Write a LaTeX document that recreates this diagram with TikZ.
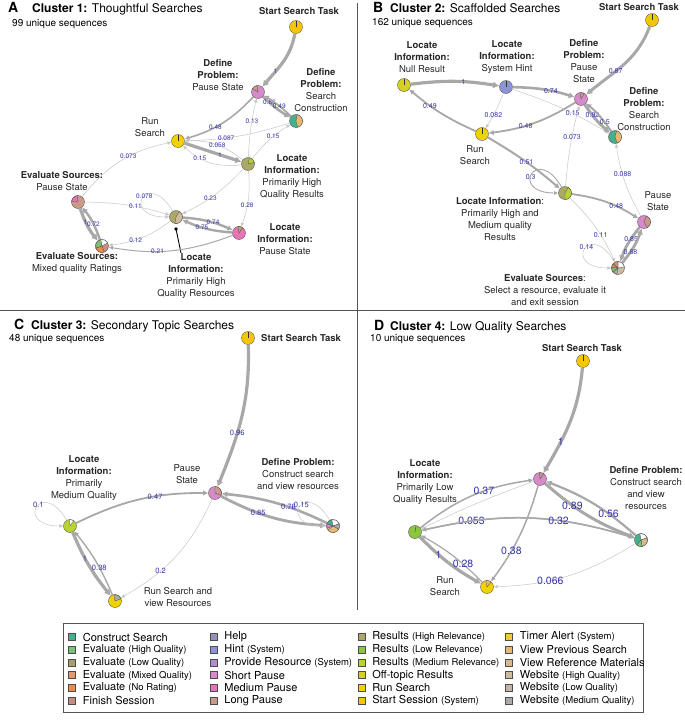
\documentclass[tikz,border=0pt]{standalone}
\usepackage{fontspec}
\setmainfont{TeX Gyre Heros}
\usetikzlibrary{arrows.meta,positioning}
\definecolor{cconstruct}{HTML}{45B08C}
\definecolor{cevalhigh}{HTML}{7CBF7B}
\definecolor{cevallow}{HTML}{A89F6E}
\definecolor{cevalmixed}{HTML}{E39A6E}
\definecolor{cevalnone}{HTML}{F08A4B}
\definecolor{cfinish}{HTML}{C48E86}
\definecolor{chelp}{HTML}{9B91B5}
\definecolor{chint}{HTML}{8C93D8}
\definecolor{cprovide}{HTML}{B48CCD}
\definecolor{cshort}{HTML}{D78AC9}
\definecolor{cmedium}{HTML}{E874B8}
\definecolor{clong}{HTML}{C99A8A}
\definecolor{creshigh}{HTML}{AAAA66}
\definecolor{creslow}{HTML}{8CC63E}
\definecolor{cresmed}{HTML}{B8D432}
\definecolor{coff}{HTML}{D4D21F}
\definecolor{crun}{HTML}{F2D100}
\definecolor{cstart}{HTML}{F6C700}
\definecolor{ctimer}{HTML}{F3C643}
\definecolor{cviewprev}{HTML}{E6B873}
\definecolor{cviewref}{HTML}{D8B98C}
\definecolor{cwebhigh}{HTML}{CDBB9F}
\definecolor{cweblow}{HTML}{C1B3A6}
\definecolor{cwebmed}{HTML}{AAAAAA}
\definecolor{edgegray}{HTML}{A8A8A8}
\definecolor{edgelight}{HTML}{C6C6C6}
\definecolor{labelblue}{HTML}{3434A6}
\definecolor{framegray}{HTML}{555555}

\newcommand{\pieslice}[4]{\filldraw[fill=#4, draw=black!70, line width=0.3pt] (#1.center) -- ++(#2:6.5) arc[start angle=#2, end angle=#3, radius=6.5] -- cycle;}
\newcommand{\pietick}[2]{\draw[black!80, line width=0.35pt] (#1.center) -- ++(#2:6.5);}
\newcommand{\legsub}[1]{{\fontsize{9.5}{12}\selectfont(#1)}}

\begin{document}
\begin{tikzpicture}[
  x=1pt, y=1pt,
  pie/.style={
    circle,
    draw=black!70,
    line width=0.35pt,
    minimum size=13pt,
    inner sep=0pt
  },
  statelabel/.style={
    font=\fontsize{9.5}{12}\selectfont,
    align=center,
    inner sep=0pt,
    text=black!85
  },
  headlabel/.style={
    statelabel,
    font=\fontsize{9.5}{12}\selectfont\bfseries
  },
  flow/.style={
    -{Latex[length=3.5pt 0.9, width=3pt 1.3]},
    draw=edgegray,
    line width=#1
  },
  flow/.default=1pt,
  thinflow/.style={
    -{Latex[length=3.5pt 0.9, width=3pt 1.3]},
    draw=edgelight,
    line width=0.5pt
  },
  elab/.style={
    font=\fontsize{#1}{#1}\selectfont,
    text=labelblue,
    inner sep=0pt
  },
  elab/.default=6.5,
  loopflow/.style={
    thinflow,
    out=120, in=180, min distance=50pt
  },
  letterlabel/.style={
    font=\fontsize{14}{14}\selectfont\bfseries,
    inner sep=0pt,
    anchor=base west
  },
  titletext/.style={
    font=\fontsize{12}{14}\selectfont,
    inner sep=0pt,
    anchor=base west
  },
  subtext/.style={
    font=\fontsize{10}{12}\selectfont,
    inner sep=0pt,
    anchor=base west
  },
  divider/.style={
    draw=framegray,
    line width=0.8pt
  },
  legsq/.style={
    rectangle,
    draw=black!70,
    line width=0.4pt,
    minimum size=7pt,
    inner sep=0pt
  },
  legtext/.style={
    font=\fontsize{11}{12}\selectfont,
    inner sep=0pt,
    xshift=7pt
  }
]
  \useasboundingbox (0,0) rectangle (685,-720);

  % ----------------------------------------------------
  % PANEL FRAME
  % ----------------------------------------------------
  \draw[divider] (0,-310) -- (685,-310);
  \draw[divider] (357,-3) -- (357,-610);

  % ----------------------------------------------------
  % PANEL A: CLUSTER 1
  % ----------------------------------------------------
  \node[letterlabel] (aLetter) at (8,-12.5) {A};
  \node[titletext] (aTitle) at (32,-12.5) {\textbf{Cluster 1:} Thoughtful Searches};
  \node[subtext] (aSub) at (12,-27) {99 unique sequences};

  \node[pie, fill=cstart] (aStart) at (296,-27) {};
  \node[pie, fill=cshort] (aDefP) at (258,-92) {};
  \node[pie, fill=cconstruct] (aSC) at (296,-121) {};
  \node[pie, fill=crun] (aRun) at (178,-141) {};
  \node[pie, fill=creshigh] (aLHR) at (248,-164) {};
  \node[pie, fill=clong] (aEP) at (78,-202) {};
  \node[pie, fill=creshigh] (aLHRes) at (176,-217) {};
  \node[pie, fill=cmedium] (aLP) at (239,-233) {};
  \node[pie, fill=cfinish] (aEM) at (102,-246) {};

  \node[headlabel] (aStartL) at (299,-11) {Start Search Task};
  \node[statelabel] (aDefPL) at (218,-75) {\textbf{Define}\\\textbf{Problem:}\\Pause State};
  \node[statelabel] (aSCL) at (321,-90) {\textbf{Define}\\\textbf{Problem:}\\Search\\Construction};
  \node[statelabel] (aRunL) at (150,-127.5) {Run\\Search};
  \node[statelabel] (aLHRL) at (292,-177) {\textbf{Locate}\\\textbf{Information:}\\Primarily High\\Quality Results};
  \node[statelabel] (aEPL) at (62,-181) {\textbf{Evaluate Sources:}\\Pause State};
  \node[statelabel] (aLHResL) at (196,-276) {\textbf{Locate}\\\textbf{Information:}\\Primarily High\\Quality Resources};
  \node[statelabel] (aLPL) at (285,-239) {\textbf{Locate}\\\textbf{Information:}\\Pause State};
  \node[statelabel] (aEML) at (77,-263.5) {\textbf{Evaluate Sources:}\\Mixed quality Ratings};

  % pointer to the resources label
  \coordinate (aPtr) at (176,-229);
  \coordinate (aPtrEnd) at (181,-253);
  \fill (aPtr) circle[radius=1.8];
  \draw[line width=0.9pt] (aPtr) -- (aPtrEnd);

  \draw[flow=3.2pt] (aStart) to[out=-100, in=50] node[elab, pos=0.7] {1} (aDefP);
  \draw[flow=2.6pt] (aDefP) to[bend right=6] node[elab, pos=0.24] {0.86} (aSC);
  \draw[flow=1.8pt] (aSC) to[bend right=6] node[elab, pos=0.45] {0.49} (aDefP);
  \draw[flow=1.6pt] (aDefP) to[bend left=15] node[elab, pos=0.6] {0.48} (aRun);
  \draw[thinflow] (aLHR) to[bend left=5] node[elab, pos=0.62] {0.13} (aDefP);
  \draw[thinflow] (aLHR) to[bend left=10] node[elab, pos=0.6] {0.15} (aSC);
  \draw[thinflow] (aSC) to[bend left=8] node[elab, pos=0.62] {0.087} (aRun);
  \draw[thinflow] (aLHR) to[bend right=20] node[elab, pos=0.47] {0.058} (aRun);
  \draw[flow=3.2pt] (aRun) to node[elab, pos=0.62] {1} (aLHR);
  \draw[thinflow] (aLHR) to[bend left=25] node[elab, pos=0.68] {0.15} (aRun);
  \draw[thinflow] (aEP) to[bend left=20] node[elab, pos=0.58] {0.073} (aRun);
  \draw[thinflow] (aEP) to[bend left=8] node[elab, pos=0.6] {0.11} (aLHRes);
  \draw[loopflow] (aLHRes) to node[elab, pos=0.45] {0.078} (aLHRes);
  \draw[thinflow] (aLHR) to[bend left=10] node[elab, pos=0.58] {0.23} (aLHRes);
  \draw[thinflow] (aLHR) to[bend left=12] node[elab, pos=0.62] {0.28} (aLP);
  \draw[flow=2.4pt] (aLHRes) to[bend left=10] node[elab, pos=0.6] {0.74} (aLP);
  \draw[flow=2.4pt] (aLP) to[bend left=10] node[elab, pos=0.6] {0.75} (aLHRes);
  \draw[thinflow] (aLHRes) to[bend left=15] node[elab, pos=0.6] {0.12} (aEM);
  \draw[flow=1pt] (aLP) to[bend left=15] node[elab, pos=0.62] {0.21} (aEM);
  \draw[flow=3.2pt] (aEP) to[bend right=10] node[elab, pos=0.4] {1} (aEM);
  \draw[flow=2.4pt] (aEM) to[bend right=10] node[elab, pos=0.45] {0.72} (aEP);

  \pietick{aStart}{90}
  \pieslice{aDefP}{100}{150}{clong}
  \pieslice{aSC}{-75}{80}{cviewprev}
  \pietick{aRun}{90}
  \pieslice{aLHR}{15}{75}{cresmed}
  \pieslice{aEP}{95}{175}{cmedium}
  \pieslice{aLHRes}{-100}{60}{cwebhigh}
  \pieslice{aLP}{55}{100}{creshigh}
  \pieslice{aEM}{100}{200}{cevalhigh}
  \pieslice{aEM}{200}{290}{cevalnone}
  \pieslice{aEM}{30}{100}{white}

  % ----------------------------------------------------
  % PANEL B: CLUSTER 2
  % ----------------------------------------------------
  \node[letterlabel] (bLetter) at (373,-12.3) {B};
  \node[titletext] (bTitle) at (390,-12.3) {\textbf{Cluster 2:} Scaffolded Searches};
  \node[subtext] (bSub) at (372,-25.5) {162 unique sequences};

  \node[pie, fill=cstart] (bStart) at (652,-20) {};
  \node[pie, fill=coff] (bNull) at (404,-85) {};
  \node[pie, fill=chint] (bHint) at (506,-87) {};
  \node[pie, fill=cshort] (bDefP) at (581,-99) {};
  \node[pie, fill=cconstruct] (bSC) at (615,-137) {};
  \node[pie, fill=crun] (bRun) at (482,-134) {};
  \node[pie, fill=creshigh] (bLHM) at (565,-193) {};
  \node[pie, fill=cshort] (bPause) at (644,-222) {};
  \node[pie, fill=cwebhigh] (bES) at (618,-268) {};

  \node[headlabel] (bStartL) at (639,-7.5) {Start Search Task};
  \node[statelabel] (bNullL) at (422,-57) {\textbf{Locate}\\\textbf{Information:}\\Null Result};
  \node[statelabel] (bHintL) at (507,-57) {\textbf{Locate}\\\textbf{Information:}\\System Hint};
  \node[statelabel] (bDefPL) at (584,-61) {\textbf{Define}\\\textbf{Problem:}\\Pause\\State};
  \node[statelabel] (bSCL) at (644,-109) {\textbf{Define}\\\textbf{Problem:}\\Search\\Construction};
  \node[statelabel] (bRunL) at (475,-155) {Run\\Search};
  \node[statelabel] (bLHML) at (500,-219) {\textbf{Locate Information}:\\Primarily High and\\Medium quality\\Results};
  \node[statelabel] (bPauseL) at (658,-201.5) {Pause\\State};
  \node[statelabel] (bESL) at (545,-290) {\textbf{Evaluate Sources}:\\Select a resource, evaluate it\\and exit session};

  \draw[flow=3pt] (bStart) to[out=-110, in=40] node[elab=7, pos=0.62] {0.87} (bDefP);
  \draw[flow=3.2pt] (bNull) to[bend left=8] node[elab=7, pos=0.6] {1} (bHint);
  \draw[flow=2.6pt] (bHint) to[bend left=8] node[elab=7, pos=0.62] {0.74} (bDefP);
  \draw[thinflow] (bHint) to[bend left=5] node[elab=7, pos=0.62] {0.082} (bRun);
  \draw[thinflow] (bHint) to[bend left=6] node[elab=7, pos=0.62] {0.15} (bSC);
  \draw[flow=3pt] (bDefP) to[bend right=8] node[elab=7, pos=0.34] {0.92} (bSC);
  \draw[flow=2pt] (bSC) to[bend right=8] node[elab=7, pos=0.28] {0.5} (bDefP);
  \draw[flow=1.8pt] (bDefP) to[bend left=12] node[elab=7, pos=0.6] {0.48} (bRun);
  \draw[flow=1.8pt] (bRun) to[bend left=8] node[elab=7, pos=0.68] {0.49} (bNull);
  \draw[flow=2pt] (bRun) to[bend left=5] node[elab=7, pos=0.52] {0.51} (bLHM);
  \draw[loopflow, line width=0.9pt, draw=edgegray] (bLHM) to node[elab=7, pos=0.58] {0.3} (bLHM);
  \draw[thinflow] (bLHM) to[bend left=5] node[elab=7, pos=0.62] {0.073} (bDefP);
  \draw[thinflow] (bPause) to[bend left=10] node[elab=7, pos=0.6] {0.088} (bSC);
  \draw[flow=1.8pt] (bLHM) to[bend left=12] node[elab=7, pos=0.66] {0.48} (bPause);
  \draw[thinflow] (bLHM) to[bend left=10] node[elab=7, pos=0.62] {0.11} (bES);
  \draw[flow=2.8pt] (bPause) to[bend right=10] node[elab=7, pos=0.35] {0.85} (bES);
  \draw[flow=2.8pt] (bES) to[bend right=10] node[elab=7, pos=0.33] {0.88} (bPause);
  \draw[loopflow] (bES) to node[elab=7, pos=0.45] {0.14} (bES);

  \pietick{bStart}{90}
  \pietick{bNull}{90}
  \pietick{bHint}{90}
  \pieslice{bDefP}{60}{100}{clong}
  \pieslice{bSC}{-70}{75}{cviewprev}
  \pietick{bRun}{90}
  \pieslice{bLHM}{-90}{60}{cresmed}
  \pieslice{bPause}{-60}{70}{clong}
  \pieslice{bES}{10}{90}{white}
  \pieslice{bES}{90}{140}{cfinish}
  \pieslice{bES}{140}{175}{cevalnone}
  \pieslice{bES}{175}{220}{cevalhigh}
  \pieslice{bES}{220}{260}{cwebmed}

  % ----------------------------------------------------
  % PANEL C: CLUSTER 3
  % ----------------------------------------------------
  \node[letterlabel] (cLetter) at (14,-329.3) {C};
  \node[titletext] (cTitle) at (31,-329.3) {\textbf{Cluster 3:} Secondary Topic Searches};
  \node[subtext] (cSub) at (9,-341.7) {48 unique sequences};

  \node[pie, fill=cstart] (cStart) at (248,-338) {};
  \node[pie, fill=cshort] (cPause) at (215,-493) {};
  \node[pie, fill=cresmed] (cLM) at (70,-526) {};
  \node[pie, fill=cviewref] (cDC) at (333,-526) {};
  \node[pie, fill=crun] (cRSV) at (115,-601) {};

  \node[headlabel, anchor=west] (cStartL) at (261,-338) {Start Search Task};
  \node[statelabel] (cPauseL) at (187,-474.5) {Pause\\State};
  \node[statelabel] (cLML) at (84,-478) {\textbf{Locate}\\\textbf{Information:}\\Primarily\\Medium Quality};
  \node[statelabel] (cDCL) at (298,-474) {\textbf{Define Problem:}\\Construct search\\and view resources};
  \node[statelabel] (cRSVL) at (178,-597) {Run Search and\\view Resources};

  \draw[flow=3.2pt] (cStart) to[out=-88, in=68] node[elab=7.6, pos=0.62] {0.96} (cPause);
  \draw[flow=1.8pt] (cLM) to[bend left=13] node[elab=7.6, pos=0.62] {0.47} (cPause);
  \draw[flow=2.8pt] (cPause) to[bend right=12] node[elab=7.6, pos=0.36] {0.85} (cDC);
  \draw[flow=2.6pt] (cDC) to[bend right=10] node[elab=7.6, pos=0.37] {0.76} (cPause);
  \draw[loopflow] (cDC) to node[elab=7.6, pos=0.45] {0.15} (cDC);
  \draw[loopflow] (cLM) to node[elab=7.6, pos=0.45] {0.1} (cLM);
  \draw[flow=3.2pt] (cLM) to[bend right=8] node[elab=7.6, pos=0.38] {1} (cRSV);
  \draw[flow=1.4pt] (cRSV) to[bend right=8] node[elab=7.6, pos=0.4] {0.38} (cLM);
  \draw[thinflow] (cPause) to[bend left=18] node[elab=7.6, pos=0.66] {0.2} (cRSV);

  \pietick{cStart}{90}
  \pieslice{cPause}{-20}{90}{clong}
  \pieslice{cLM}{55}{95}{white}
  \pieslice{cDC}{100}{160}{cconstruct}
  \pieslice{cDC}{20}{100}{white}
  \pieslice{cDC}{-30}{20}{cwebmed}
  \pieslice{cDC}{-140}{-30}{cviewprev}
  \pieslice{cDC}{160}{200}{cshort}
  \pieslice{cRSV}{20}{100}{cwebmed}

  % ----------------------------------------------------
  % PANEL D: CLUSTER 4
  % ----------------------------------------------------
  \node[letterlabel] (dLetter) at (374,-330) {D};
  \node[titletext] (dTitle) at (390,-330) {\textbf{Cluster 4:} Low Quality Searches};
  \node[subtext] (dSub) at (370,-341.7) {10 unique sequences};

  \node[pie, fill=cstart] (dStart) at (583,-361) {};
  \node[pie, fill=cshort] (dPause) at (540,-479) {};
  \node[pie, fill=creslow] (dLL) at (415,-532) {};
  \node[pie, fill=cconstruct] (dDC) at (641,-540) {};
  \node[pie, fill=crun] (dRun) at (487,-587) {};

  \node[headlabel] (dStartL) at (582,-348) {Start Search Task};
  \node[statelabel] (dLLL) at (425,-482) {\textbf{Locate}\\\textbf{Information:}\\Primarily Low\\Quality Results};
  \node[statelabel] (dDCL) at (646,-488.5) {\textbf{Define Problem:}\\Construct search\\and view\\resources};
  \node[statelabel] (dRunL) at (445,-586.5) {Run\\Search};

  \draw[flow=3.2pt] (dStart) to[out=-95, in=60] node[elab=10.5, pos=0.7] {1} (dPause);
  \draw[flow=1.5pt] (dLL) to[bend left=15] node[elab=10.5, pos=0.6] {0.37} (dPause);
  \draw[thinflow] (dPause) to[bend right=3] (dLL);
  \draw[flow=1.4pt] (dLL) to[bend left=15] node[elab=10.5, pos=0.22] {0.053} (dDC);
  \draw[flow=1.5pt] (dDC) to[bend right=15] node[elab=10.5, pos=0.35] {0.32} (dLL);
  \draw[flow=3pt] (dPause) to[bend right=10] node[elab=10.5, pos=0.32] {0.89} (dDC);
  \draw[flow=2.2pt] (dDC) to[bend right=10] node[elab=10.5, pos=0.32] {0.56} (dPause);
  \draw[flow=1.5pt] (dPause) to[bend left=10] node[elab=10.5, pos=0.67] {0.38} (dRun);
  \draw[flow=3.2pt] (dLL) to[bend right=8] node[elab=10.5, pos=0.32] {1} (dRun);
  \draw[flow=1.2pt] (dRun) to[bend right=8] node[elab=10.5, pos=0.33] {0.28} (dLL);
  \draw[thinflow] (dDC) to[bend left=15] node[elab=10.5, pos=0.63] {0.066} (dRun);

  \pietick{dStart}{90}
  \pieslice{dPause}{55}{95}{clong}
  \pietick{dLL}{80}
  \pieslice{dDC}{20}{100}{white}
  \pieslice{dDC}{-80}{20}{cviewref}
  \pieslice{dDC}{-130}{-80}{cevalhigh}
  \pieslice{dRun}{50}{100}{cviewprev}

  % ----------------------------------------------------
  % LEGEND
  % ----------------------------------------------------
  \draw[divider] (63,-623) rectangle (643,-712);

  \node[legsq, fill=cconstruct, label={[legtext]right:Construct Search}] (lgConstruct) at (72,-637) {};
  \node[legsq, fill=cevalhigh, label={[legtext]right:Evaluate \legsub{High Quality}}] (lgEvalHigh) at (72,-649.7) {};
  \node[legsq, fill=cevallow, label={[legtext]right:Evaluate \legsub{Low Quality}}] (lgEvalLow) at (72,-662.4) {};
  \node[legsq, fill=cevalmixed, label={[legtext]right:Evaluate \legsub{Mixed Quality}}] (lgEvalMixed) at (72,-675.1) {};
  \node[legsq, fill=cevalnone, label={[legtext]right:Evaluate \legsub{No Rating}}] (lgEvalNone) at (72,-687.8) {};
  \node[legsq, fill=cfinish, label={[legtext]right:Finish Session}] (lgFinish) at (72,-700.5) {};

  \node[legsq, fill=chelp, label={[legtext]right:Help}] (lgHelp) at (213.5,-637) {};
  \node[legsq, fill=chint, label={[legtext]right:Hint \legsub{System}}] (lgHint) at (213.5,-649.7) {};
  \node[legsq, fill=cprovide, label={[legtext]right:Provide Resource \legsub{System}}] (lgProvide) at (213.5,-662.4) {};
  \node[legsq, fill=cshort, label={[legtext]right:Short Pause}] (lgShort) at (213.5,-675.1) {};
  \node[legsq, fill=cmedium, label={[legtext]right:Medium Pause}] (lgMedium) at (213.5,-687.8) {};
  \node[legsq, fill=clong, label={[legtext]right:Long Pause}] (lgLong) at (213.5,-700.5) {};

  \node[legsq, fill=creshigh, label={[legtext]right:Results \legsub{High Relevance}}] (lgResHigh) at (361.5,-637) {};
  \node[legsq, fill=creslow, label={[legtext]right:Results \legsub{Low Relevance}}] (lgResLow) at (361.5,-649.7) {};
  \node[legsq, fill=cresmed, label={[legtext]right:Results \legsub{Medium Relevance}}] (lgResMed) at (361.5,-662.4) {};
  \node[legsq, fill=coff, label={[legtext]right:Off-topic Results}] (lgOff) at (361.5,-675.1) {};
  \node[legsq, fill=crun, label={[legtext]right:Run Search}] (lgRun) at (361.5,-687.8) {};
  \node[legsq, fill=cstart, label={[legtext]right:Start Session \legsub{System}}] (lgStart) at (361.5,-700.5) {};

  \node[legsq, fill=ctimer, label={[legtext]right:Timer Alert \legsub{System}}] (lgTimer) at (509,-637) {};
  \node[legsq, fill=cviewprev, label={[legtext]right:View Previous Search}] (lgViewPrev) at (509,-649.7) {};
  \node[legsq, fill=cviewref, label={[legtext]right:View Reference Materials}] (lgViewRef) at (509,-662.4) {};
  \node[legsq, fill=cwebhigh, label={[legtext]right:Website \legsub{High Quality}}] (lgWebHigh) at (509,-675.1) {};
  \node[legsq, fill=cweblow, label={[legtext]right:Website \legsub{Low Quality}}] (lgWebLow) at (509,-687.8) {};
  \node[legsq, fill=cwebmed, label={[legtext]right:Website \legsub{Medium Quality}}] (lgWebMed) at (509,-700.5) {};

\end{tikzpicture}
\end{document}
